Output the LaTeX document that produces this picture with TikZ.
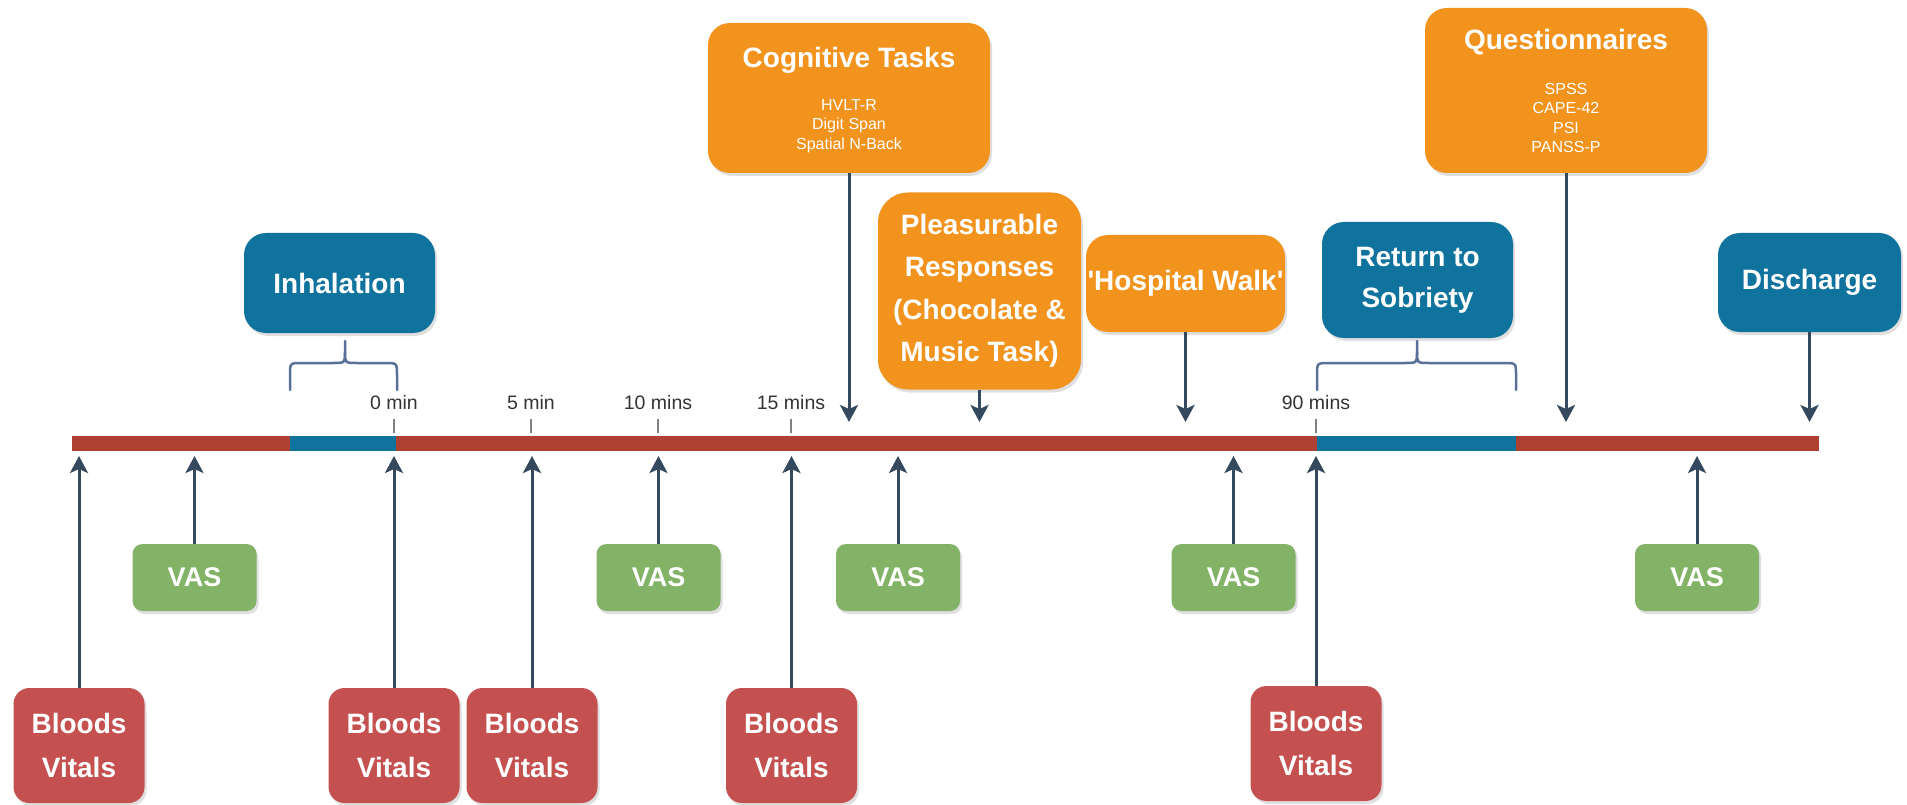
\documentclass[tikz,border=0pt]{standalone}
\usepackage{fontspec}
\setmainfont{Liberation Sans}
\usetikzlibrary{arrows.meta,shadows}
\definecolor{orng}{HTML}{F2931E}
\definecolor{blu}{HTML}{10739E}
\definecolor{redbox}{HTML}{C55050}
\definecolor{grn}{HTML}{82B366}
\definecolor{barred}{HTML}{AE4132}
\definecolor{arr}{HTML}{34495E}
\definecolor{brc}{HTML}{5A7099}
\definecolor{ticktxt}{HTML}{333333}
\tikzset{
  boxbase/.style={inner sep=0pt, text=white, align=center,
    font=\fontsize{28}{44}\selectfont\bfseries,
    drop shadow={shadow xshift=2pt,shadow yshift=-3pt,opacity=0.25}},
  obox/.style={boxbase, fill=orng, rounded corners=22pt},
  bbox/.style={boxbase, fill=blu, rounded corners=22pt},
  rbox/.style={boxbase, fill=redbox, rounded corners=16pt, minimum width=131pt, minimum height=115pt},
  gbox/.style={boxbase, fill=grn, rounded corners=10pt, minimum width=124pt, minimum height=67pt,
    font=\fontsize{27}{32}\selectfont\bfseries},
  ttl/.style={text=white, inner sep=0pt, anchor=base, font=\fontsize{28}{34}\selectfont\bfseries},
  subtxt/.style={text=white, inner sep=0pt, align=center, font=\fontsize{16}{19.6}\selectfont},
  ticklbl/.style={text=ticktxt, inner sep=0pt, font=\fontsize{19.5}{22}\selectfont},
  tickline/.style={draw=gray, line width=1.5pt},
  conn/.style={draw=arr, line width=3pt, -{Stealth[length=17pt,width=18pt,inset=4pt]}},
  bracestyle/.style={draw=brc, line width=2.5pt, line cap=round, line join=round}
}
\begin{document}
\begin{tikzpicture}[x=1pt,y=-1pt]
\useasboundingbox (0,0) rectangle (1907,805);

% timeline bar
\fill[barred] (72,436) rectangle (1819,451);
\fill[blu] (290,436) rectangle (396,451);
\fill[blu] (1317,436) rectangle (1516,451);

% ticks and labels
\foreach \x/\t in {394/0 min, 531/5 min, 658/10 mins, 791/15 mins, 1316/90 mins}{
  \draw[tickline] (\x,419) -- (\x,433);
  \node[ticklbl] at (\x,403) {\t};
}

% top boxes
\node[obox, minimum width=282pt, minimum height=150pt] (cog) at (849,98) {};
\node[ttl] (cogT) at (849,68) {Cognitive Tasks};
\node[subtxt] (cogS) at (849,126) {HVLT-R\\Digit Span\\Spatial N-Back};

\node[obox, minimum width=282pt, minimum height=165pt] (quest) at (1566,90.5) {};
\node[ttl] (questT) at (1566,50) {Questionnaires};
\node[subtxt] (questS) at (1566,118) {SPSS\\CAPE-42\\PSI\\PANSS-P};

\node[bbox, minimum width=191pt, minimum height=100pt] (inh) at (339.5,283) {Inhalation};
\node[obox, rounded corners=30pt, minimum width=203pt, minimum height=197pt,
  font=\fontsize{28}{42.5}\selectfont\bfseries] (pleas) at (979.5,291) {Pleasurable\\Responses\\(Chocolate \&\\Music Task)};
\node[obox, minimum width=199pt, minimum height=97pt] (hosp) at (1185.5,283.5) {\textquotesingle Hospital Walk\textquotesingle};
\node[bbox, minimum width=191pt, minimum height=116pt] (ret) at (1417.5,280) {Return to\\[-3pt]Sobriety};
\node[bbox, minimum width=183pt, minimum height=99pt] (dis) at (1809.5,282.5) {Discharge};

% arrow end points on top of bar
\coordinate (bartop) at (0,422);
\coordinate (barbot) at (0,456);
\coordinate (tcog) at (cog.south |- bartop);
\coordinate (tpleas) at (pleas.south |- bartop);
\coordinate (thosp) at (hosp.south |- bartop);
\coordinate (tquest) at (quest.south |- bartop);
\coordinate (tdis) at (dis.south |- bartop);
\draw[conn] (cog) -- (tcog);
\draw[conn] (pleas) -- (tpleas);
\draw[conn] (hosp) -- (thosp);
\draw[conn] (quest) -- (tquest);
\draw[conn] (dis) -- (tdis);

% braces
\coordinate (inhTip) at (345,341);
\draw[bracestyle] (290,390) -- (290,375) .. controls (290,363) .. (302,363) -- (333,363)
  .. controls (345,363) .. (345,352) -- (inhTip);
\draw[bracestyle] (345,352) .. controls (345,363) .. (357,363) -- (385,363)
  .. controls (397,363) .. (397,375) -- (397,390);
\coordinate (retTip) at (1417,341);
\draw[bracestyle] (1317,390) -- (1317,375) .. controls (1317,363) .. (1329,363) -- (1405,363)
  .. controls (1417,363) .. (1417,352) -- (retTip);
\draw[bracestyle] (1417,352) .. controls (1417,363) .. (1429,363) -- (1504,363)
  .. controls (1516,363) .. (1516,375) -- (1516,390);

% bottom boxes
\node[gbox] (v1) at (194.5,577.5) {VAS};
\node[gbox] (v2) at (658.5,577.5) {VAS};
\node[gbox] (v3) at (898,577.5) {VAS};
\node[gbox] (v4) at (1233.5,577.5) {VAS};
\node[gbox] (v5) at (1697,577.5) {VAS};

\node[rbox] (b1) at (79,745.5) {Bloods\\Vitals};
\node[rbox] (b2) at (394,745.5) {Bloods\\Vitals};
\node[rbox] (b3) at (532,745.5) {Bloods\\Vitals};
\node[rbox] (b4) at (791.5,745.5) {Bloods\\Vitals};
\node[rbox] (b5) at (1316,743.5) {Bloods\\Vitals};

\foreach \n in {v1,v2,v3,v4,v5,b1,b2,b3,b4,b5}{
  \coordinate (e\n) at (\n.north |- barbot);
  \draw[conn] (\n) -- (e\n);
}
\end{tikzpicture}
\end{document}
